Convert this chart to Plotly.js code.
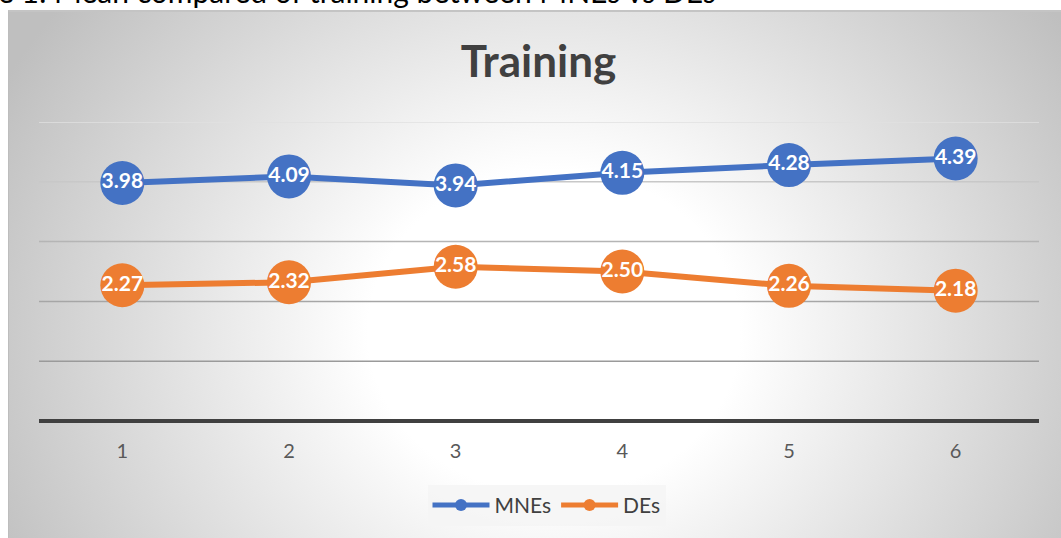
<!DOCTYPE html>
<html>
<head>
<meta charset="utf-8">
<script src="https://cdn.plot.ly/plotly-3.0.1.min.js"></script>
<style>
  html, body { margin: 0; padding: 0; width: 1061px; height: 538px; overflow: hidden; background: #ffffff; }
  #caption { position: absolute; left: -2px; top: -27px; font-family: Lato, "Open Sans", sans-serif; font-size: 30px; color: #000; white-space: nowrap; }
  #box { position: absolute; left: 8px; top: 10px; width: 1060px; height: 535px;
         border-top: 2px solid #c4c4c4; border-left: 1px solid #bdbdbd;
         background: radial-gradient(ellipse 620px 540px at 545px 320px, #ffffff 30%, #bfbfbf 100%); }
  #chart { position: absolute; left: 0; top: 0; width: 1061px; height: 538px; }
</style>
</head>
<body>
<div id="caption">e 1: Mean compared of training between MNEs vs DEs</div>
<div id="box"></div>
<div id="chart"></div>
<script>
const categories = [1, 2, 3, 4, 5, 6];
const mnes = [3.98, 4.09, 3.94, 4.15, 4.28, 4.39];
const des = [2.27, 2.32, 2.58, 2.50, 2.26, 2.18];
const gridValues = [1, 2, 3, 4, 5];
const gridColors = ['#9a9a9a', '#a6a6a6', '#b5b5b5', '#c8c8c8', '#e0e0e0'];

function series(name, y, color) {
  return {
    type: 'scatter', mode: 'lines+markers+text', name: name,
    x: categories, y: y,
    line: { color: color, width: 6 },
    marker: { color: color, size: 44 },
    text: y.map(v => v.toFixed(2)),
    textposition: 'middle center',
    textfont: { family: 'Lato, sans-serif', size: 21, color: '#ffffff', weight: 700 },
    cliponaxis: false, hoverinfo: 'skip'
  };
}

const data = [series('MNEs', mnes, '#4472C4'), series('DEs', des, '#ED7D31')];

const shapes = gridValues.map((v, i) => ({
  type: 'line', xref: 'paper', yref: 'y', x0: 0, x1: 1, y0: v, y1: v,
  line: { color: gridColors[i], width: 1.5 }, layer: 'below'
}));

const layout = {
  width: 1061, height: 538,
  paper_bgcolor: 'rgba(0,0,0,0)', plot_bgcolor: 'rgba(0,0,0,0)',
  margin: { l: 39, r: 22, t: 121.5, b: 115, pad: 0 },
  title: { text: 'Training', x: 0.5075, xanchor: 'center', y: 0.8855, yanchor: 'middle',
           font: { family: 'Lato, sans-serif', size: 44, color: '#404040', weight: 700 } },
  xaxis: { type: 'linear', range: [0.5, 6.5], tickvals: categories, ticktext: categories.map(String),
           showgrid: false, zeroline: false, showline: false,
           ticks: 'outside', ticklen: 12, tickcolor: 'rgba(0,0,0,0)',
           tickfont: { family: 'Lato, sans-serif', size: 20, color: '#595959' }, fixedrange: true },
  yaxis: { range: [0, 5], showgrid: false, showticklabels: false, ticks: '',
           zeroline: true, zerolinecolor: '#404040', zerolinewidth: 4, showline: false, fixedrange: true },
  shapes: shapes,
  showlegend: true,
  legend: { orientation: 'h', x: 0.5075, xanchor: 'center', y: -0.282, yanchor: 'middle',
            bgcolor: 'rgba(245,245,245,0.85)', itemwidth: 57, itemsizing: 'constant',
            font: { family: 'Lato, sans-serif', size: 21, color: '#404040' } },
  hovermode: false
};

Plotly.newPlot('chart', data, layout, { displayModeBar: false, staticPlot: true });
</script>
</body>
</html>
